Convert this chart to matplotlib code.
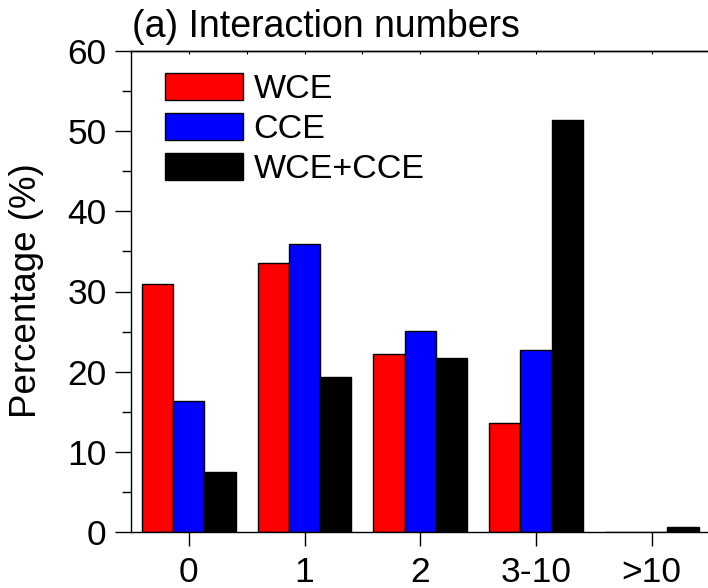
import matplotlib
matplotlib.use("Agg")
import matplotlib.pyplot as plt
import numpy as np
from matplotlib.ticker import MultipleLocator

plt.rcParams['font.family'] = ['Liberation Sans', 'DejaVu Sans']

# data
categories = ['0', '1', '2', '3-10', '>10']
wce = [30.9, 33.5, 22.2, 13.6, 0.0]
cce = [16.4, 35.9, 25.1, 22.7, 0.0]
wce_cce = [7.5, 19.3, 21.7, 51.4, 0.6]
series_names = ['WCE', 'CCE', 'WCE+CCE']
colors = ['#ff0000', '#0000ff', '#000000']

fig = plt.figure(figsize=(7.08, 5.88), dpi=100)
ax = fig.add_axes([131 / 708, 56 / 588, 578.5 / 708, 481 / 588])

x = np.arange(len(categories))
w = 0.27
for i, (vals, name, c) in enumerate(zip([wce, cce, wce_cce], series_names, colors)):
    ax.bar(x + (i - 1) * w, vals, width=w, color=c, edgecolor='black',
           linewidth=1.0, label=name)

ax.set_xlim(-0.5, 4.5)
ax.set_ylim(0, 60)
ax.set_xticks(x)
ax.set_xticklabels(categories)
ax.yaxis.set_major_locator(MultipleLocator(10))
ax.yaxis.set_minor_locator(MultipleLocator(5))

ax.tick_params(axis='y', which='major', direction='out', length=11.5, width=1.0,
               labelsize=25.5, pad=6)
ax.tick_params(axis='y', which='minor', direction='out', length=6.2, width=1.0)
ax.tick_params(axis='x', which='major', direction='out', length=10, width=1.0,
               labelsize=25.5, pad=7, top=False)

# tiny ticks along the top edge
secx = ax.secondary_xaxis('top')
secx.set_xticks(np.arange(-0.5, 4.51, 0.5))
secx.tick_params(direction='in', length=2, width=0.8, labeltop=False)
secx.spines['top'].set_linewidth(1.0)

for s in ['left', 'bottom', 'top']:
    ax.spines[s].set_linewidth(1.0)
ax.spines['right'].set_visible(False)

fig.text(132 / 708, 1 - 37 / 588, '(a) Interaction numbers', fontsize=27,
         ha='left', va='baseline')
fig.text(27 / 708, 1 - 291 / 588, 'Percentage (%)', fontsize=26.5,
         rotation=90, ha='center', va='center')

ax.legend(loc='upper left', bbox_to_anchor=(34 / 578.5, 1 - 22 / 481),
          frameon=False, fontsize=24.5, borderpad=0, borderaxespad=0,
          handlelength=2.3, handleheight=0.85, handletextpad=0.3,
          labelspacing=0.22)

fig.savefig('out.png', dpi=100)
